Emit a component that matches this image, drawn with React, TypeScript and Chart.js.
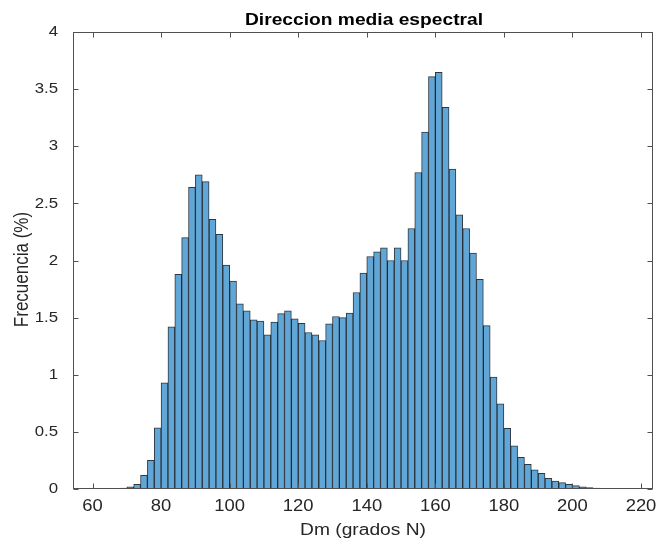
import React, { useEffect, useRef } from "react";
import { Chart, registerables } from "chart.js";

Chart.register(...registerables);

// Histogram bins (centre of each 2-degree bin)
const binCenters = [
  65, 67, 69, 71, 73, 75, 77, 79, 81, 83, 85, 87, 89, 91, 93, 95, 97, 99,
  101, 103, 105, 107, 109, 111, 113, 115, 117, 119, 121, 123, 125, 127, 129,
  131, 133, 135, 137, 139, 141, 143, 145, 147, 149, 151, 153, 155, 157, 159,
  161, 163, 165, 167, 169, 171, 173, 175, 177, 179, 181, 183, 185, 187, 189,
  191, 193, 195, 197, 199, 201, 203, 205, 207, 209, 211, 213,
];

// Frequency (%) of each bin
const frequencies = [
  0.002, 0.004, 0.008, 0.02, 0.04, 0.12, 0.25, 0.535, 0.93, 1.42, 1.88, 2.2,
  2.64, 2.75, 2.69, 2.36, 2.23, 1.96, 1.82, 1.62, 1.56, 1.48, 1.47, 1.35, 1.46,
  1.535, 1.56, 1.49, 1.45, 1.37, 1.35, 1.3, 1.445, 1.51, 1.5, 1.54, 1.72, 1.89,
  2.035, 2.075, 2.11, 2.0, 2.11, 2.0, 2.28, 2.77, 3.125, 3.61, 3.646, 3.34, 2.8,
  2.4, 2.28, 2.065, 1.835, 1.43, 0.98, 0.745, 0.53, 0.377, 0.278, 0.216, 0.167,
  0.137, 0.094, 0.07, 0.056, 0.041, 0.03, 0.018, 0.012, 0.008, 0.005, 0.003,
  0.002,
];

const xTicks = [60, 80, 100, 120, 140, 160, 180, 200, 220];
const yTicks = [0, 0.5, 1, 1.5, 2, 2.5, 3, 3.5, 4];

const titleText = "Direccion media espectral";
const xTitle = "Dm (grados N)";
const yTitle = "Frecuencia (%)";

const FONT = "'Liberation Sans', Arial, Helvetica, sans-serif";
const AXIS_COLOR = "#505050";
const TEXT_COLOR = "#262626";

function stretchedText(
  ctx: CanvasRenderingContext2D,
  text: string,
  x: number,
  y: number,
  sx: number,
  align: CanvasTextAlign,
  baseline: CanvasTextBaseline,
  rotate = 0
) {
  ctx.save();
  ctx.translate(x, y);
  ctx.scale(sx, 1);
  if (rotate) ctx.rotate(rotate);
  ctx.textAlign = align;
  ctx.textBaseline = baseline;
  ctx.fillText(text, 0, 0);
  ctx.restore();
}

const framePlugin = {
  id: "matlabFrame",
  afterDatasetsDraw(chart: any) {
    const { ctx, chartArea: a, scales } = chart;
    const L = Math.round(a.left) + 0.5;
    const R = Math.round(a.right) - 0.5;
    const T = Math.round(a.top) + 0.5;
    const B = Math.round(a.bottom) - 0.5;
    ctx.save();
    ctx.strokeStyle = AXIS_COLOR;
    ctx.lineWidth = 1;
    ctx.strokeRect(L, T, R - L, B - T);
    const tl = 5;
    ctx.beginPath();
    for (const v of xTicks) {
      const x = Math.round(scales.x.getPixelForValue(v)) + 0.5;
      ctx.moveTo(x, B);
      ctx.lineTo(x, B - tl);
      ctx.moveTo(x, T);
      ctx.lineTo(x, T + tl);
    }
    for (const v of yTicks) {
      const y = Math.round(scales.y.getPixelForValue(v)) + 0.5;
      ctx.moveTo(L, y);
      ctx.lineTo(L + tl, y);
      ctx.moveTo(R, y);
      ctx.lineTo(R - tl, y);
    }
    ctx.stroke();

    // tick labels
    ctx.fillStyle = TEXT_COLOR;
    ctx.font = `16px ${FONT}`;
    for (const v of xTicks) {
      const x = scales.x.getPixelForValue(v);
      stretchedText(ctx, String(v), x, a.bottom + 22, 1.15, "center", "alphabetic");
    }
    ctx.font = `15px ${FONT}`;
    for (const v of yTicks) {
      const y = scales.y.getPixelForValue(v);
      stretchedText(ctx, String(v), a.left - 15, y, 1.12, "right", "middle");
    }

    // axis titles
    ctx.font = `16px ${FONT}`;
    stretchedText(ctx, xTitle, (a.left + a.right) / 2, 535, 1.2, "center", "alphabetic");
    ctx.font = `17px ${FONT}`;
    stretchedText(ctx, yTitle, 28, (a.top + a.bottom) / 2 + 9, 1.15, "center", "alphabetic", -Math.PI / 2);

    // title
    ctx.fillStyle = "#000";
    ctx.font = `bold 17px ${FONT}`;
    stretchedText(ctx, titleText, (a.left + a.right) / 2 + 1, 25, 1.13, "center", "alphabetic");
    ctx.restore();
  },
};

export default function App() {
  const ref = useRef<HTMLCanvasElement | null>(null);

  useEffect(() => {
    if (!ref.current) return;
    const chart = new Chart(ref.current, {
      type: "bar",
      data: {
        datasets: [
          {
            data: binCenters.map((c, i) => ({ x: c, y: frequencies[i] })),
            backgroundColor: "rgb(96,167,216)",
            borderColor: "rgba(10,20,30,0.85)",
            borderWidth: { top: 1, left: 1, right: 1, bottom: 0 },
            borderSkipped: false,
            barPercentage: 1,
            categoryPercentage: 1,
          },
        ],
      },
      options: {
        responsive: false,
        animation: false,
        layout: { padding: { top: 32, right: 4, left: 0, bottom: 0 } },
        plugins: {
          legend: { display: false },
          tooltip: { enabled: false },
          title: { display: false },
        },
        scales: {
          x: {
            type: "linear",
            min: 54.3,
            max: 223.5,
            offset: false,
            grid: { display: false, drawTicks: false },
            border: { display: false },
            afterBuildTicks: (s: any) => {
              s.ticks = xTicks.map((v) => ({ value: v }));
            },
            afterFit: (s: any) => {
              s.height = 59;
            },
            ticks: { display: false },
            title: { display: false },
          },
          y: {
            type: "linear",
            min: 0,
            max: 4,
            grid: { display: false, drawTicks: false },
            border: { display: false },
            afterBuildTicks: (s: any) => {
              s.ticks = yTicks.map((v) => ({ value: v }));
            },
            afterFit: (s: any) => {
              s.width = 73;
            },
            ticks: { display: false },
            title: { display: false },
          },
        },
      },
      plugins: [framePlugin],
    });
    return () => chart.destroy();
  }, []);

  return (
    <div
      style={{
        position: "fixed",
        left: 0,
        top: 0,
        width: 657,
        height: 548,
        background: "#fff",
      }}
    >
      <canvas ref={ref} width={657} height={548} style={{ display: "block" }} />
    </div>
  );
}
